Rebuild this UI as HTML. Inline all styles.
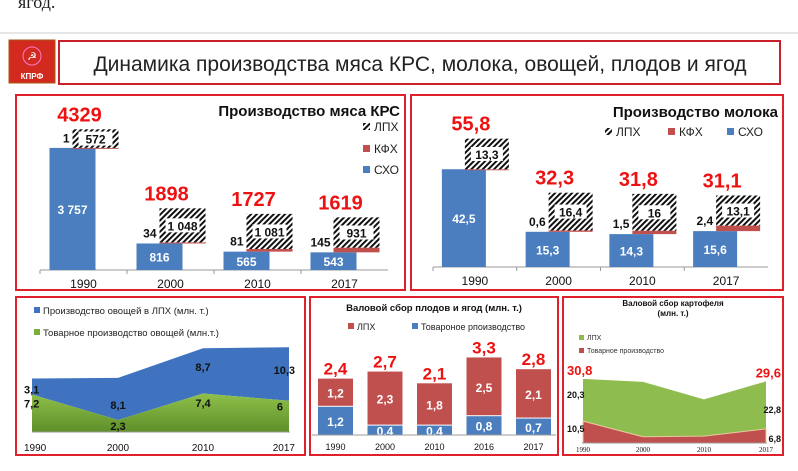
<!DOCTYPE html>
<html><head><meta charset="utf-8"><style>
html,body{margin:0;padding:0;background:#fff;width:798px;height:471px;overflow:hidden}
svg{display:block;font-family:"Liberation Sans","DejaVu Sans",sans-serif}
</style></head><body>
<svg id="root" width="798" height="471" viewBox="0 0 798 471" xmlns="http://www.w3.org/2000/svg">
<defs>
<pattern id="hatch" width="4" height="4" patternUnits="userSpaceOnUse" patternTransform="rotate(45)">
<rect width="4" height="4" fill="#fff"/><rect width="2" height="4" fill="#111"/>
</pattern>
<linearGradient id="gGreen" x1="0" y1="0" x2="0" y2="1"><stop offset="0" stop-color="#8fc04a"/><stop offset="1" stop-color="#5e8f2a"/></linearGradient>
</defs>
<text x="18" y="8" font-family="Liberation Serif,serif" font-size="18" fill="#222">ягод.</text>
<line x1="0" y1="33" x2="798" y2="33" stroke="#ccc" stroke-width="1"/>
<g>
<rect x="9" y="40" width="46" height="43" fill="#d22a1e" stroke="#a51"/>
<circle cx="32" cy="56" r="9" fill="none" stroke="#f7c" stroke-width="1"/>
<text x="32" y="60" text-anchor="middle" font-size="11" fill="#fff">☭</text>
<text x="32" y="79" text-anchor="middle" font-size="8" font-weight="bold" fill="#fff">КПРФ</text>
</g>
<rect x="59" y="41" width="721" height="43" fill="#fff" stroke="#c8202a" stroke-width="2"/>
<text x="420" y="71" text-anchor="middle" font-size="21" fill="#222">Динамика производства мяса КРС, молока, овощей, плодов и ягод</text>
<rect x="16" y="95" width="389" height="195" fill="#fff" stroke="#e0202a" stroke-width="2"/>
<rect x="411" y="95" width="372" height="195" fill="#fff" stroke="#e0202a" stroke-width="2"/>
<rect x="16" y="297" width="289" height="158" fill="#fff" stroke="#e0202a" stroke-width="2"/>
<rect x="310" y="297" width="248" height="158" fill="#fff" stroke="#e0202a" stroke-width="2"/>
<rect x="563" y="297" width="220" height="158" fill="#fff" stroke="#e0202a" stroke-width="2"/>
<text x="400" y="116" text-anchor="end" font-size="15" font-weight="bold" fill="#111">Производство мяса КРС</text>
<text x="778" y="117" text-anchor="end" font-size="15" font-weight="bold" fill="#111">Производство молока</text>
</svg>
<script>
const NS="http://www.w3.org/2000/svg";
const root=document.getElementById('root');
function mk(tag,attrs,txt){const e=document.createElementNS(NS,tag);for(const k in attrs)e.setAttribute(k,attrs[k]);if(txt!==undefined)e.textContent=txt;root.appendChild(e);return e;}

// ---- data ----
const meatYears=["1990","2000","2010","2017"];
const meatSHO=[3757,816,565,543];
const meatKFH=[1,34,81,145];
const meatLPH=[572,1048,1081,931];
const meatTotal=["4329","1898","1727","1619"];
const meatSHOLabels=["3 757","816","565","543"];
const meatLPHLabels=["572","1 048","1 081","931"];

const milkYears=["1990","2000","2010","2017"];
const milkSHO=[42.5,15.3,14.3,15.6];
const milkKFH=[0,0.6,1.5,2.4];
const milkLPH=[13.3,16.4,16,13.1];
const milkTotal=["55,8","32,3","31,8","31,1"];
const milkKFHLabels=["","0,6","1,5","2,4"];

const vegYears=["1990","2000","2010","2017"];
const vegCommercial=[7.2,2.3,7.4,6];
const vegLPH=[3.1,8.1,8.7,10.3];

const fruitYears=["1990","2000","2010","2016","2017"];
const fruitCommercial=[1.2,0.4,0.4,0.8,0.7];
const fruitLPH=[1.2,2.3,1.8,2.5,2.1];
const fruitTotal=["2,4","2,7","2,1","3,3","2,8"];

const potYears=["1990","2000","2010","2017"];
const potCommercial=[10.5,3.0,3.3,6.8];
const potLPH=[20.3,26.4,17.7,22.8];

const fmt=v=>String(v).replace('.',',');

// ---- generic stacked offset chart (meat, milk) ----
function offsetChart(o){
  const y=v=>o.base-v*o.scale;
  const ax=mk('line',{x1:o.x0,y1:o.base,x2:o.x1,y2:o.base,stroke:'#999'});
  
  
  const step=(o.x1-o.x0)/o.years.length;
  o.years.forEach((yr,i)=>{
    const cx=o.x0+step*(i+0.5);
    const tk=mk('line',{x1:o.x0+step*i,y1:o.base,x2:o.x0+step*i,y2:o.base+4,stroke:'#999'});
    
    
    const lb=mk('text',{x:cx,y:o.base+18,'text-anchor':'middle','font-size':12,fill:'#111'},yr);
    
    
    const bx=cx-11-o.w/2, hx=cx+12-o.w/2;
    const sTop=y(o.sho[i]);
    const b=mk('rect',{x:bx,y:sTop,width:o.w,height:o.base-sTop,fill:'#4a7ebf'});
    
    
    const bl=mk('text',{x:bx+o.w/2,y:(sTop+o.base)/2+5,'text-anchor':'middle','font-size':12,'font-weight':'bold',fill:'#fff'},o.shoLabels?o.shoLabels[i]:fmt(o.sho[i]));
    
    
    const kTop=sTop-o.kfh[i]*o.scale;
    const k=mk('rect',{x:hx,y:kTop,width:o.w,height:Math.max(o.kfh[i]*o.scale,1),fill:'#c0504d'});
    
    
    const lTop=kTop-o.lph[i]*o.scale;
    const h=mk('rect',{x:hx,y:lTop,width:o.w,height:o.lph[i]*o.scale,fill:'url(#hatch)'});
    
    
    const lh=o.lph[i]*o.scale, lbw=o.w-12;
    const wb=mk('rect',{x:hx+6,y:lTop+lh/2-7,width:lbw,height:14,fill:'#fff'});
    
    
    const lt=mk('text',{x:hx+o.w/2,y:lTop+lh/2+5,'text-anchor':'middle','font-size':12,'font-weight':'bold',fill:'#111'},o.lphLabels?o.lphLabels[i]:fmt(o.lph[i]));
    
    
    const kl=o.kfhLabels?o.kfhLabels[i]:String(o.kfh[i]);
    if(kl){
      const kt=mk('text',{x:hx-3,y:i===0?lTop+13:sTop-6,'text-anchor':'end','font-size':12,'font-weight':'bold',fill:'#111'},kl);
      
      
    }
    const tt=mk('text',{x:cx-4,y:lTop-8,'text-anchor':'middle','font-size':20,'font-weight':'bold',fill:'#ee1111'},o.total[i]);
    
    
  });
}
offsetChart({id:'meat',years:meatYears,sho:meatSHO,kfh:meatKFH,lph:meatLPH,total:meatTotal,shoLabels:meatSHOLabels,lphLabels:meatLPHLabels,base:270,scale:0.0325,x0:40,x1:388,w:46});
offsetChart({id:'milk',years:milkYears,sho:milkSHO,kfh:milkKFH,lph:milkLPH,total:milkTotal,kfhLabels:milkKFHLabels,base:267,scale:2.3,x0:433,x1:768,w:44});

// meat legend
[["ЛПХ","url(#hatch)",131],["КФХ","#c0504d",153],["СХО","#4a7ebf",174]].forEach(l=>{
  const s=mk('rect',{x:363,y:l[2]-8,width:7,height:7,fill:l[1]});
  
  
  const t=mk('text',{x:374,y:l[2],'font-size':12,fill:'#222'},l[0]);
  
  
});
// milk legend
[["ЛПХ","url(#hatch)",605],["КФХ","#c0504d",668],["СХО","#4a7ebf",727]].forEach(l=>{
  const s=mk('rect',{x:l[2],y:128,width:7,height:7,fill:l[1]});
  
  
  const t=mk('text',{x:l[2]+11,y:136,'font-size':12,fill:'#222'},l[0]);
  
  
});

// ---- vegetables area ----
(function(){
  const base=432, sc=5.2, xs=[32,118,203,289];
  const x=i=>xs[i];
  const y=v=>base-v*sc;
  let top='',mid='';
  vegYears.forEach((_,i)=>{top+=(i?'L':'M')+x(i)+','+y(vegCommercial[i]+vegLPH[i]);});
  for(let i=vegYears.length-1;i>=0;i--) mid+='L'+x(i)+','+y(vegCommercial[i]);
  const a1=mk('path',{d:top+mid+'Z',fill:'#3f73c0'});
  
  
  let g='';
  vegYears.forEach((_,i)=>{g+=(i?'L':'M')+x(i)+','+y(vegCommercial[i]);});
  const a2=mk('path',{d:g+'L'+x(3)+','+base+'L'+x(0)+','+base+'Z',fill:'url(#gGreen)'});
  
  
  const ax=mk('line',{x1:32,y1:base,x2:290,y2:base,stroke:'#999'});
  
  
  const anch=['start','middle','middle','end'];
  vegYears.forEach((yr,i)=>{
    const t=mk('text',{x:x(i)+(i===0?-8:i===3?6:0),y:451,'text-anchor':anch[i],'font-size':10,fill:'#111'},yr);
    
    
    const gv=mk('text',{x:x(i)+(i===0?-8:i===3?-6:0),y:(i===1?y(vegCommercial[i])+10:(y(vegCommercial[i])+base)/2-6),'text-anchor':anch[i],'font-size':11,'font-weight':'bold',fill:'#111'},fmt(vegCommercial[i]));
    
    
    const tv=y(vegCommercial[i]+vegLPH[i]);
    const bv=mk('text',{x:x(i)+(i===0?-8:i===3?6:0),y:i===0?tv+15:(i===1?(tv+y(vegCommercial[i]))/2+10:(tv+y(vegCommercial[i]))/2),'text-anchor':anch[i],'font-size':11,'font-weight':'bold',fill:'#111'},fmt(vegLPH[i]));
    
    
  });
  [["Производство овощей в ЛПХ (млн. т.)","#3f73c0",314],["Товарное производство овощей (млн.т.)","#7aad3a",336]].forEach(l=>{
    const s=mk('rect',{x:34,y:l[2]-7,width:6,height:6,fill:l[1]});
    
    
    const t=mk('text',{x:43,y:l[2],'font-size':9.5,fill:'#222'},l[0]);
    
    
  });
})();

// ---- fruits stacked bars ----
(function(){
  const base=435, sc=23.5, w=35;
  const x=i=>318+49.5*i;
  const t0=mk('text',{x:434,y:311,'text-anchor':'middle','font-size':9.5,'font-weight':'bold',fill:'#111'},'Валовой сбор плодов и ягод (млн. т.)');
  
  
  [["ЛПХ","#c0504d",348],["Товароное рпоизводство","#4a7ebf",412]].forEach(l=>{
    const s=mk('rect',{x:l[2],y:323,width:6,height:6,fill:l[1]});
    
    
    const t=mk('text',{x:l[2]+9,y:330,'font-size':9,fill:'#222'},l[0]);
    
    
  });
  fruitYears.forEach((yr,i)=>{
    const cTop=base-fruitCommercial[i]*sc;
    const b=mk('rect',{x:x(i),y:cTop,width:w,height:base-cTop,fill:'#4a7ebf'});
    
    
    const lTop=cTop-fruitLPH[i]*sc;
    const r=mk('rect',{x:x(i),y:lTop,width:w,height:fruitLPH[i]*sc-1,fill:'#c0504d'});
    
    
    const cv=mk('text',{x:x(i)+w/2,y:(cTop+base)/2+5,'text-anchor':'middle','font-size':12,'font-weight':'bold',fill:'#fff'},fmt(fruitCommercial[i]));
    
    
    const lv=mk('text',{x:x(i)+w/2,y:(lTop+cTop)/2+5,'text-anchor':'middle','font-size':12,'font-weight':'bold',fill:'#fff'},fmt(fruitLPH[i]));
    
    
    const tv=mk('text',{x:x(i)+w/2,y:lTop-4,'text-anchor':'middle','font-size':17,'font-weight':'bold',fill:'#ee1111'},fruitTotal[i]);
    
    
    const yl=mk('text',{x:x(i)+w/2,y:450,'text-anchor':'middle','font-size':9,fill:'#111'},yr);
    
    
  });
  const ax=mk('line',{x1:312,y1:base,x2:556,y2:base,stroke:'#999'});
  
  
})();

// ---- potatoes area ----
(function(){
  const base=443, sc=2.08, xs=[583,643,704,766];
  const x=i=>xs[i];
  const y=v=>base-v*sc;
  const t1=mk('text',{x:673,y:306,'text-anchor':'middle','font-size':8,'font-weight':'bold',fill:'#111'},'Валовой сбор картофеля');
  
  
  const t2=mk('text',{x:673,y:316,'text-anchor':'middle','font-size':8,'font-weight':'bold',fill:'#111'},'(млн. т.)');
  
  
  [["ЛПХ","#8fbc4f",340],["Товарное производство","#c0504d",353]].forEach(l=>{
    const s=mk('rect',{x:579,y:l[2]-5,width:5,height:5,fill:l[1]});
    
    
    const t=mk('text',{x:587,y:l[2],'font-size':7,fill:'#333'},l[0]);
    
    
  });
  let top='',mid='';
  potYears.forEach((_,i)=>{top+=(i?'L':'M')+x(i)+','+y(potCommercial[i]+potLPH[i]);});
  for(let i=potYears.length-1;i>=0;i--) mid+='L'+x(i)+','+y(potCommercial[i]);
  const a1=mk('path',{d:top+mid+'Z',fill:'#8fbc4f'});
  
  
  let r='';
  potYears.forEach((_,i)=>{r+=(i?'L':'M')+x(i)+','+y(potCommercial[i]);});
  const a2=mk('path',{d:r+'L'+x(3)+','+base+'L'+x(0)+','+base+'Z',fill:'#c0504d',stroke:'#e8c9a0','stroke-width':1});
  
  
  const ax=mk('line',{x1:582,y1:base,x2:767,y2:base,stroke:'#999'});
  
  
  potYears.forEach((yr,i)=>{
    const t=mk('text',{x:x(i),y:452,'text-anchor':'middle','font-size':7,'font-family':'Liberation Serif,serif',fill:'#111'},yr);
    
    
  });
  [0,3].forEach(i=>{
    const anch=i===0?'end':'start';
    const dx=i===0?-0:0;
    const tot=mk('text',{x:i===0?567:781,y:y(potCommercial[i]+potLPH[i])-4,'text-anchor':i===0?'start':'end','font-size':13,'font-weight':'bold',fill:'#ee1111'},fmt(Math.round((potCommercial[i]+potLPH[i])*10)/10));
    
    
    const lv=mk('text',{x:i===0?567:781,y:i===0?(y(potCommercial[i]+potLPH[i])+y(potCommercial[i]))/2-2:(y(potCommercial[i]+potLPH[i])+y(potCommercial[i]))/2+8,'text-anchor':i===0?'start':'end','font-size':9,'font-weight':'bold',fill:'#111'},fmt(potLPH[i]));
    
    
    const cv=mk('text',{x:i===0?567:781,y:(y(potCommercial[i])+base)/2+(i===0?0:6),'text-anchor':i===0?'start':'end','font-size':9,'font-weight':'bold',fill:'#111'},fmt(potCommercial[i]));
    
    
  });
})();
</script>
</body></html>
